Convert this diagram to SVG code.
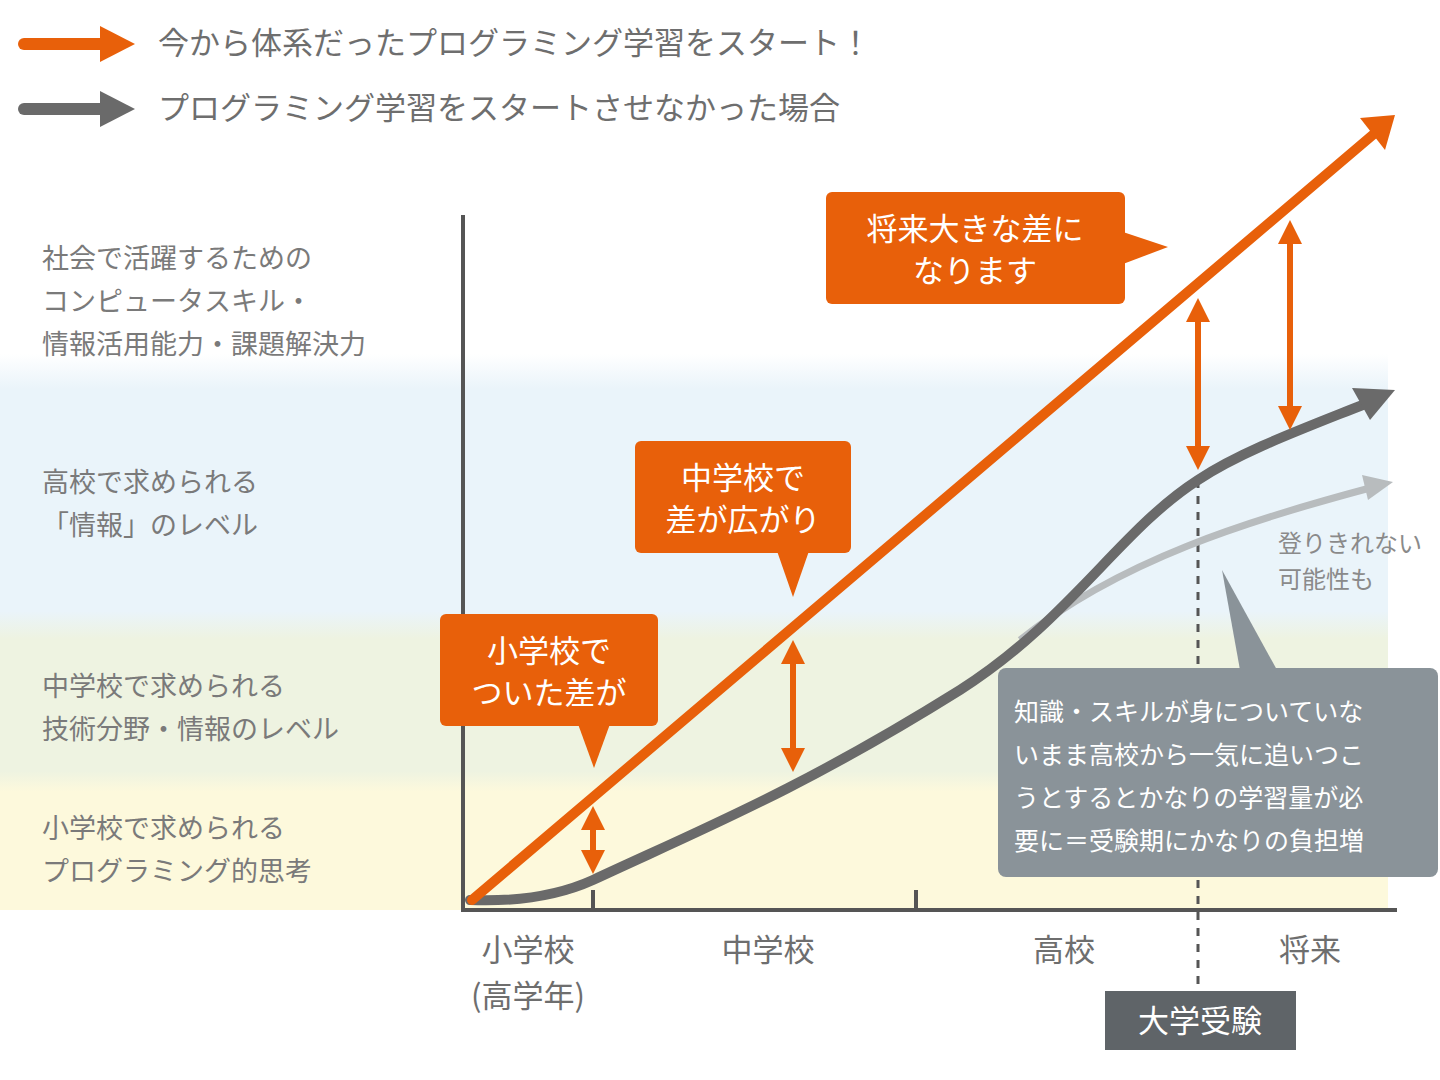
<svg xmlns="http://www.w3.org/2000/svg" width="1440" height="1080" viewBox="0 0 1440 1080">
<defs>
<style>
text{font-family:"Noto Sans CJK JP",sans-serif}
.lab{fill:#7a7a7a;font-size:27px}
.ax{fill:#6e6e6e;font-size:31px}
.wt{fill:#fff;font-size:31px;text-anchor:middle}
.gt{fill:#fff;font-size:25px}
.or{fill:#e8600a}
.dbl{stroke:#e8600a;stroke-width:6;marker-start:url(#oh);marker-end:url(#oh)}
</style>
<marker id="oh" viewBox="0 0 10 10" refX="5" refY="5" markerWidth="4" markerHeight="4" orient="auto-start-reverse"><path d="M0,0L10,5L0,10z" fill="#e8600a"/></marker>
<linearGradient id="bg" x1="0" y1="0" x2="0" y2="1">
<stop offset="0.20" stop-color="#ffffff"/>
<stop offset="0.25" stop-color="#eaf4fa"/>
<stop offset="0.57" stop-color="#eaf4fa"/>
<stop offset="0.61" stop-color="#eef3e1"/>
<stop offset="0.80" stop-color="#eef3e1"/>
<stop offset="0.83" stop-color="#fdf9dc"/>
<stop offset="1" stop-color="#fdf9dc"/>
</linearGradient>
</defs>
<rect width="1440" height="1080" fill="#fff"/>
<rect x="0" y="215" width="1388" height="695" fill="url(#bg)"/>
<g id="legend">
<line x1="24" y1="44" x2="105" y2="44" stroke="#e8600a" stroke-width="12" stroke-linecap="round"/>
<path d="M100,26L135,44L100,62z" fill="#e8600a"/>
<text x="158" y="54" style="fill:#6e6e6e;font-size:31px">今から体系だったプログラミング学習をスタート！</text>
<line x1="24" y1="109" x2="105" y2="109" stroke="#6a6a6a" stroke-width="12" stroke-linecap="round"/>
<path d="M100,91L135,109L100,127z" fill="#6a6a6a"/>
<text x="158" y="119" style="fill:#6e6e6e;font-size:31px">プログラミング学習をスタートさせなかった場合</text>
</g>
<g id="levels">
<text class="lab" x="42" y="268">社会で活躍するための</text>
<text class="lab" x="42" y="311">コンピュータスキル・</text>
<text class="lab" x="42" y="354">情報活用能力・課題解決力</text>
<text class="lab" x="42" y="492">高校で求められる</text>
<text class="lab" x="42" y="535">「情報」のレベル</text>
<text class="lab" x="42" y="696">中学校で求められる</text>
<text class="lab" x="42" y="739">技術分野・情報のレベル</text>
<text class="lab" x="42" y="838">小学校で求められる</text>
<text class="lab" x="42" y="881">プログラミング的思考</text>
</g>
<g id="axes" stroke="#555" stroke-width="4" fill="none">
<line x1="463" y1="215" x2="463" y2="912"/>
<line x1="461" y1="910" x2="1397" y2="910"/>
<line x1="593" y1="890" x2="593" y2="910"/>
<line x1="916" y1="890" x2="916" y2="910"/>
<line x1="1198" y1="480" x2="1198" y2="988" stroke-dasharray="8,8" stroke-width="3"/>
</g>
<g id="xlabels">
<text class="ax" x="528" y="961" text-anchor="middle">小学校</text>
<text class="ax" x="528" y="1007" text-anchor="middle">(高学年)</text>
<text class="ax" x="768" y="961" text-anchor="middle">中学校</text>
<text class="ax" x="1064" y="961" text-anchor="middle">高校</text>
<text class="ax" x="1310" y="961" text-anchor="middle">将来</text>
</g>
<g id="exam"><rect x="1105" y="991" width="191" height="59" fill="#5f6468"/><text x="1200" y="1032" style="fill:#fff;font-size:31px" text-anchor="middle">大学受験</text></g>
<g id="connectors">
<path d="M1020,640C1120,560 1250,520 1370,488" stroke="#b8bcbe" stroke-width="7" fill="none"/>
<path d="M1362,475L1393,482L1368,500z" fill="#b8bcbe"/>
<path d="M470,900C520,902 560,895 593,880C700,830 800,790 960,690C1070,620 1120,530 1198,480C1240,452 1300,430 1365,404" stroke="#6a6a6a" stroke-width="10" fill="none" stroke-linecap="round"/>
<path d="M1352,388L1395,390L1370,420z" fill="#6a6a6a"/>
<line x1="472" y1="900" x2="1375" y2="133" stroke="#e8600a" stroke-width="10" stroke-linecap="round"/>
<path d="M1360,118L1395,115L1385,150z" fill="#e8600a"/>
<line class="dbl" x1="593" y1="818" x2="593" y2="862"/>
<line class="dbl" x1="793" y1="652" x2="793" y2="760"/>
<line class="dbl" x1="1198" y1="310" x2="1198" y2="458"/>
<line class="dbl" x1="1290" y1="232" x2="1290" y2="418"/>
</g>
<g id="callout1"><rect class="or" x="440" y="614" width="218" height="112" rx="6"/><path class="or" d="M578,724L610,724L594,768z"/><text class="wt" x="549" y="662">小学校で</text><text class="wt" x="549" y="704">ついた差が</text></g>
<g id="callout2"><rect class="or" x="635" y="441" width="216" height="112" rx="6"/><path class="or" d="M777,551L809,551L793,597z"/><text class="wt" x="743" y="489">中学校で</text><text class="wt" x="743" y="531">差が広がり</text></g>
<g id="callout3"><rect class="or" x="826" y="192" width="299" height="112" rx="6"/><path class="or" d="M1123,232L1168,247L1123,264z"/><text class="wt" x="975" y="240">将来大きな差に</text><text class="wt" x="975" y="282">なります</text></g>
<g id="note"><rect x="998" y="668" width="440" height="209" rx="8" fill="#8a9399"/><path d="M1240,670L1277,670L1222,570z" fill="#8a9399"/>
<text class="gt" x="1014" y="721">知識・スキルが身についていな</text>
<text class="gt" x="1014" y="764">いまま高校から一気に追いつこ</text>
<text class="gt" x="1014" y="807">うとするとかなりの学習量が必</text>
<text class="gt" x="1014" y="850">要に＝受験期にかなりの負担増</text></g>
<g id="side"><text x="1278" y="552" style="fill:#8a8a8a;font-size:24px">登りきれない</text><text x="1278" y="588" style="fill:#8a8a8a;font-size:24px">可能性も</text></g>
</svg>
